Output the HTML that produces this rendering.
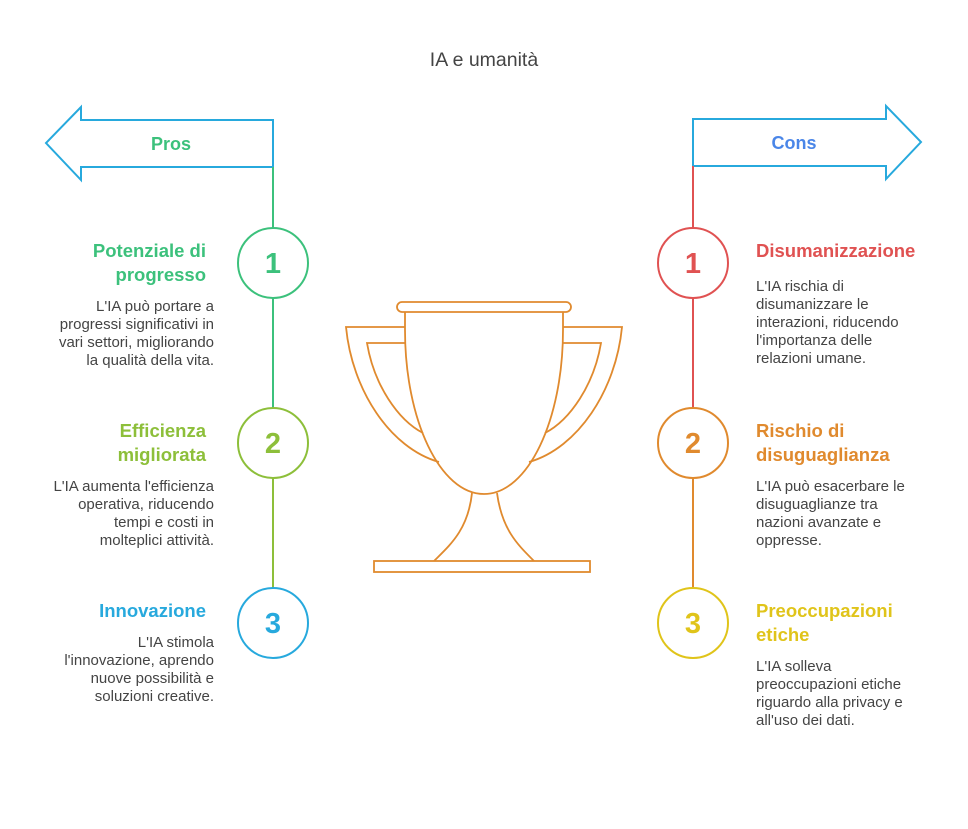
<!DOCTYPE html>
<html><head><meta charset="utf-8"><style>
body{margin:0;background:#fff;width:968px;height:829px;overflow:hidden;position:relative;font-family:"Liberation Sans",sans-serif}
.t{position:absolute;font-size:15px;line-height:18px;color:#444}
.h{position:absolute;font-size:18.5px;line-height:24px;font-weight:bold}
.l{text-align:right}
</style></head><body>
<svg width="968" height="829" style="position:absolute;left:0;top:0" fill="none" stroke-width="2">
<text x="484" y="66" font-size="19.5" fill="#444" stroke="none" text-anchor="middle" font-family="Liberation Sans">IA e umanità</text>
<path d="M273,120 L81,120 L81,107 L46,143 L81,180 L81,167 L273,167 Z" stroke="#27a9dd"/>
<text x="171" y="150" font-size="18" font-weight="bold" fill="#3cc17c" stroke="none" text-anchor="middle" font-family="Liberation Sans">Pros</text>
<path d="M693,119 L886,119 L886,106 L921,142 L886,179 L886,166 L693,166 Z" stroke="#27a9dd"/>
<text x="794" y="149" font-size="18" font-weight="bold" fill="#4a86e8" stroke="none" text-anchor="middle" font-family="Liberation Sans">Cons</text>
<line x1="273" y1="167" x2="273" y2="408" stroke="#3cc17c"/>
<line x1="273" y1="478" x2="273" y2="588" stroke="#8dbf3a"/>
<line x1="693" y1="166" x2="693" y2="408" stroke="#e05252"/>
<line x1="693" y1="478" x2="693" y2="588" stroke="#e08a2e"/>
<circle cx="273" cy="263" r="35" fill="#fff" stroke="#3cc17c"/>
<circle cx="273" cy="443" r="35" fill="#fff" stroke="#8dbf3a"/>
<circle cx="273" cy="623" r="35" fill="#fff" stroke="#27a9dd"/>
<circle cx="693" cy="263" r="35" fill="#fff" stroke="#e05252"/>
<circle cx="693" cy="443" r="35" fill="#fff" stroke="#e08a2e"/>
<circle cx="693" cy="623" r="35" fill="#fff" stroke="#e0c41a"/>
<g font-size="29" font-weight="bold" text-anchor="middle" stroke="none" font-family="Liberation Sans">
<text x="273" y="273" fill="#3cc17c">1</text><text x="273" y="453" fill="#8dbf3a">2</text><text x="273" y="633" fill="#27a9dd">3</text>
<text x="693" y="273" fill="#e05252">1</text><text x="693" y="453" fill="#e08a2e">2</text><text x="693" y="633" fill="#e0c41a">3</text></g>
<g stroke="#e08a2e" stroke-width="1.8">
<rect x="397" y="302" width="174" height="10" rx="5"/>
<path d="M405,312 L405,330 C405,420 440,494 484,494 C528,494 563,420 563,330 L563,312"/>
<path d="M405,327 L346,327 C352,390 390,448 439,462"/>
<path d="M405,343 L367,343 C374,385 398,420 423,433"/>
<path d="M563,327 L622,327 C616,390 578,448 529,462"/>
<path d="M563,343 L601,343 C594,385 570,420 545,433"/>
<path d="M472,493 C468,530 450,545 434,561"/>
<path d="M497,493 C502,530 518,545 534,561"/>
<rect x="374" y="561" width="216" height="11"/>
</g></svg>
<div class="h l" style="right:762px;top:239px;color:#3cc17c">Potenziale di<br>progresso</div>
<div class="t l" style="right:754px;top:298px">L'IA può portare a<br>progressi significativi in<br>vari settori, migliorando<br>la qualità della vita.</div>
<div class="h l" style="right:762px;top:419px;color:#8dbf3a">Efficienza<br>migliorata</div>
<div class="t l" style="right:754px;top:478px">L'IA aumenta l'efficienza<br>operativa, riducendo<br>tempi e costi in<br>molteplici attività.</div>
<div class="h l" style="right:762px;top:599px;color:#27a9dd">Innovazione</div>
<div class="t l" style="right:754px;top:634px">L'IA stimola<br>l'innovazione, aprendo<br>nuove possibilità e<br>soluzioni creative.</div>
<div class="h" style="left:756px;top:239px;color:#e05252">Disumanizzazione</div>
<div class="t" style="left:756px;top:278px">L'IA rischia di<br>disumanizzare le<br>interazioni, riducendo<br>l'importanza delle<br>relazioni umane.</div>
<div class="h" style="left:756px;top:419px;color:#e08a2e">Rischio di<br>disuguaglianza</div>
<div class="t" style="left:756px;top:478px">L'IA può esacerbare le<br>disuguaglianze tra<br>nazioni avanzate e<br>oppresse.</div>
<div class="h" style="left:756px;top:599px;color:#e0c41a">Preoccupazioni<br>etiche</div>
<div class="t" style="left:756px;top:658px">L'IA solleva<br>preoccupazioni etiche<br>riguardo alla privacy e<br>all'uso dei dati.</div>
</body></html>
